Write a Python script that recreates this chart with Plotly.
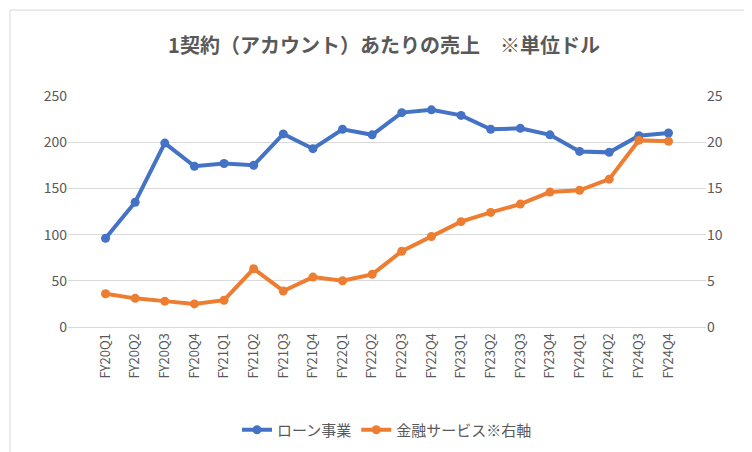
import plotly.graph_objects as go

quarters = ["FY20Q1", "FY20Q2", "FY20Q3", "FY20Q4", "FY21Q1", "FY21Q2", "FY21Q3", "FY21Q4",
            "FY22Q1", "FY22Q2", "FY22Q3", "FY22Q4", "FY23Q1", "FY23Q2", "FY23Q3", "FY23Q4",
            "FY24Q1", "FY24Q2", "FY24Q3", "FY24Q4"]
loan = [96, 135, 199, 174, 177, 175, 209, 193, 214, 208, 232, 235, 229, 214, 215, 208,
        190, 189, 207, 210]
finance = [3.6, 3.1, 2.8, 2.5, 2.9, 6.3, 3.9, 5.4, 5.0, 5.7, 8.2, 9.8, 11.4, 12.4, 13.3, 14.6,
           14.8, 16.0, 20.2, 20.1]

BLUE = "#4472C4"
ORANGE = "#ED7D31"
font = "Noto Sans CJK JP"

fig = go.Figure()
fig.add_trace(go.Scatter(x=quarters, y=loan, name="ローン事業", mode="lines+markers",
                         line=dict(color=BLUE, width=4), marker=dict(size=9, color=BLUE)))
fig.add_trace(go.Scatter(x=quarters, y=finance, name="金融サービス※右軸", mode="lines+markers",
                         yaxis="y2", line=dict(color=ORANGE, width=4),
                         marker=dict(size=9, color=ORANGE)))

fig.update_layout(
    width=752, height=452,
    margin=dict(l=60, r=54, t=88, b=133),
    paper_bgcolor="white", plot_bgcolor="white",
    font=dict(family=font, color="#595959", size=13),
    title=dict(text="<b>1契約（アカウント）あたりの売上　※単位ドル</b>", x=0.5, y=0.915,
               xanchor="center", yanchor="middle", font=dict(size=20, color="#595959")),
    xaxis=dict(tickangle=-90, showgrid=False, showline=True, linecolor="#D9D9D9",
               ticks="", tickfont=dict(size=13)),
    yaxis=dict(range=[0, 250], dtick=50, gridcolor="#D9D9D9", zeroline=False,
               tickfont=dict(size=14)),
    yaxis2=dict(range=[0, 25], dtick=5, overlaying="y", side="right", showgrid=False,
                zeroline=False, tickfont=dict(size=14)),
    legend=dict(orientation="h", x=0.5, xanchor="center", y=-0.446, yanchor="middle",
                font=dict(size=15)),
    shapes=[dict(type="rect", xref="paper", yref="paper", x0=-0.091, x1=1.082,
                 y0=-0.567, y1=1.372, line=dict(color="#D9D9D9", width=1))],
)

fig.write_html("out.html")
